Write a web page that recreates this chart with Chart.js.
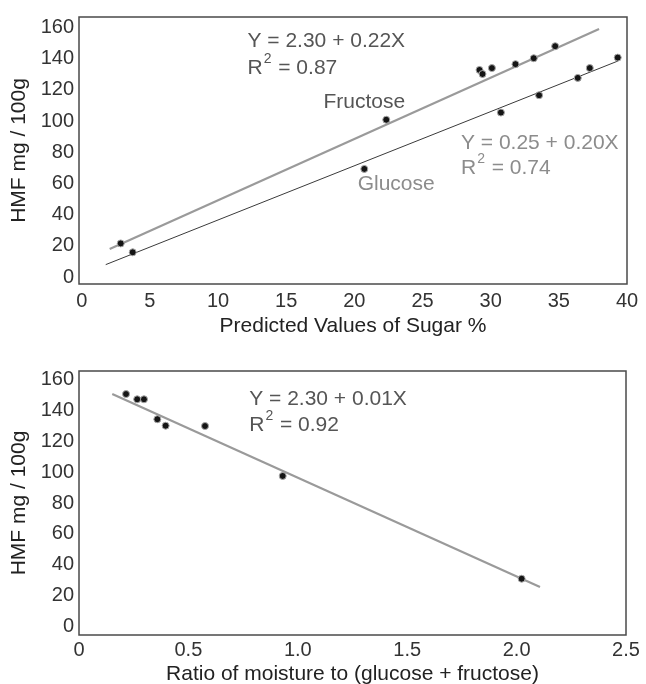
<!DOCTYPE html>
<html>
<head>
<meta charset="utf-8">
<script src="https://cdn.jsdelivr.net/npm/chart.js@4.4.1/dist/chart.umd.min.js"></script>
<style>
  html, body { margin: 0; padding: 0; background: #fff; }
  canvas { display: block; }
</style>
</head>
<body>
<canvas id="sugarChart" width="646" height="342"></canvas>
<canvas id="ratioChart" width="646" height="342"></canvas>
<script>
// values
var fructoseX = [2.86, 22.34, 29.18, 29.40, 30.09, 31.82, 33.16, 34.73];
var fructoseY = [21.6, 100.8, 132.7, 130.1, 133.9, 136.4, 140.2, 147.9];
var glucoseX = [3.74, 20.73, 30.75, 33.55, 36.39, 37.27, 39.32];
var glucoseY = [15.9, 69.3, 105.4, 116.5, 127.6, 133.9, 140.6];
// ends of the fitted lines
var fructoseFitX = [2.05, 37.95];
var fructoseFitY = [18.0, 158.9];
var glucoseFitX = [1.76, 39.36];
var glucoseFitY = [8.0, 138.5];

var ratioX = [0.215, 0.266, 0.297, 0.358, 0.396, 0.576, 0.931, 2.023];
var ratioHMF = [150.5, 147.1, 147.1, 134.2, 130.0, 129.8, 97.5, 31.0];
var ratioFitX = [0.152, 2.107];
var ratioFitY = [150.5, 25.7];

var sugarTicks = [0, 5, 10, 15, 20, 25, 30, 35, 40];
var hmfTicks = [0, 20, 40, 60, 80, 100, 120, 140, 160];
var ratioTicks = [0, 0.5, 1.0, 1.5, 2.0, 2.5];

var FONT = '"Liberation Sans", Arial, sans-serif';

function pts(xs, ys) {
    return xs.map(function (x, i) { return {x: x, y: ys[i]}; });
}

function pointSet(xs, ys) {
    return {
        type: 'scatter',
        data: pts(xs, ys),
        pointRadius: 3.5,
        pointBackgroundColor: '#151515',
        pointBorderColor: '#a8a8a8',
        pointBorderWidth: 1
    };
}

function fitSet(xs, ys, color, width) {
    return {
        type: 'line',
        data: pts(xs, ys),
        showLine: true,
        borderColor: color,
        borderWidth: width,
        pointRadius: 0,
        fill: false
    };
}

// frame round the plot + text notes placed in data units
var framePlugin = {
    id: 'frame',
    afterDraw: function (chart) {
        var a = chart.chartArea, ctx = chart.ctx;
        ctx.save();
        ctx.strokeStyle = '#4a4a4a';
        ctx.lineWidth = 1.5;
        ctx.strokeRect(a.left, a.top, a.right - a.left, a.bottom - a.top);

        var notes = chart.options.plugins.notes || [];
        notes.forEach(function (n) {
            var px = chart.scales.x.getPixelForValue(n.x);
            var py = chart.scales.y.getPixelForValue(n.y);
            ctx.fillStyle = n.color;
            ctx.textBaseline = 'middle';
            ctx.textAlign = 'left';
            var bits = n.text.split('^');
            ctx.font = '21px ' + FONT;
            ctx.fillText(bits[0], px, py);
            if (bits.length > 1) {
                var w = ctx.measureText(bits[0]).width;
                ctx.font = '14px ' + FONT;
                ctx.fillText(bits[1].charAt(0), px + w + 1, py - 9);
                var w2 = ctx.measureText(bits[1].charAt(0)).width;
                ctx.font = '21px ' + FONT;
                ctx.fillText(bits[1].slice(1), px + w + w2 + 2, py);
            }
        });
        ctx.restore();
    }
};

function axis(opts) {
    return {
        type: 'linear',
        min: opts.min,
        max: opts.max,
        afterBuildTicks: function (s) {
            s.ticks = opts.ticks.map(function (v) { return {value: v}; });
        },
        afterFit: opts.fit,
        grid: {display: false, drawTicks: false},
        border: {display: false},
        ticks: {
            color: '#333',
            font: {family: FONT, size: 20},
            padding: opts.tickPad,
            autoSkip: false,
            maxRotation: 0,
            callback: opts.fmt || function (v) { return v; }
        },
        title: {
            display: true,
            text: opts.title,
            color: '#222',
            font: {family: FONT, size: 21, lineHeight: opts.titleLH || 1.2},
            padding: opts.titlePad
        }
    };
}

new Chart(document.getElementById('sugarChart'), {
    data: {
        datasets: [
            pointSet(fructoseX, fructoseY),
            pointSet(glucoseX, glucoseY),
            fitSet(fructoseFitX, fructoseFitY, '#9a9a9a', 2.2),
            fitSet(glucoseFitX, glucoseFitY, '#3a3a3a', 1)
        ]
    },
    options: {
        responsive: false,
        animation: false,
        devicePixelRatio: 1,
        layout: {padding: {top: 12, right: 19, left: 0, bottom: 0}},
        plugins: {
            legend: {display: false},
            tooltip: {enabled: false},
            notes: [
                {text: 'Y = 2.30 + 0.22X', x: 12.16, y: 150.8, color: '#555'},
                {text: 'R^2 = 0.87', x: 12.16, y: 133.6, color: '#555'},
                {text: 'Fructose', x: 17.73, y: 111.8, color: '#555'},
                {text: 'Y = 0.25 + 0.20X', x: 27.82, y: 85.6, color: '#8c8c8c'},
                {text: 'R^2 = 0.74', x: 27.82, y: 69.8, color: '#8c8c8c'},
                {text: 'Glucose', x: 20.24, y: 59.8, color: '#8c8c8c'}
            ]
        },
        scales: {
            x: axis({min: -0.2, max: 40, ticks: sugarTicks, tickPad: 5,
                title: 'Predicted Values of Sugar %', titlePad: {top: 0, bottom: 3},
                fit: function (s) { s.height = 58; }}),
            y: axis({min: -4.4, max: 166.6, ticks: hmfTicks, tickPad: 5,
                title: 'HMF mg / 100g', titlePad: {top: 7, bottom: 0},
                fit: function (s) { s.width = 79; }})
        }
    },
    plugins: [framePlugin]
});

new Chart(document.getElementById('ratioChart'), {
    data: {
        datasets: [
            pointSet(ratioX, ratioHMF),
            fitSet(ratioFitX, ratioFitY, '#9a9a9a', 2.2)
        ]
    },
    options: {
        responsive: false,
        animation: false,
        devicePixelRatio: 1,
        layout: {padding: {top: 29, right: 20, left: 0, bottom: 0}},
        plugins: {
            legend: {display: false},
            tooltip: {enabled: false},
            notes: [
                {text: 'Y = 2.30 + 0.01X', x: 0.778, y: 147.3, color: '#555'},
                {text: 'R^2 = 0.92', x: 0.778, y: 130.5, color: '#555'}
            ]
        },
        scales: {
            x: axis({min: 0, max: 2.5, ticks: ratioTicks, tickPad: 3,
                title: 'Ratio of moisture to (glucose + fructose)', titlePad: {top: 0, bottom: 0}, titleLH: 0.9,
                fmt: function (v) { return v === 0 ? '0' : v.toFixed(1); },
                fit: function (s) { s.height = 49; }}),
            y: axis({min: -5.4, max: 165.4, ticks: hmfTicks, tickPad: 5,
                title: 'HMF mg / 100g', titlePad: {top: 7, bottom: 0},
                fit: function (s) { s.width = 79; }})
        }
    },
    plugins: [framePlugin]
});
</script>
</body>
</html>
